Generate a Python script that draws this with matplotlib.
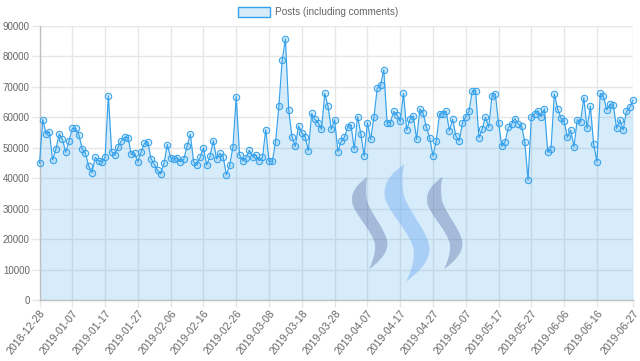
import numpy as np
import pandas as pd
import matplotlib
matplotlib.use("Agg")
import matplotlib.pyplot as plt
import matplotlib.dates as mdates
from matplotlib.path import Path
from matplotlib.patches import PathPatch, Rectangle
from matplotlib.transforms import Affine2D

plt.rcParams['font.family'] = ['Liberation Sans', 'DejaVu Sans']

start_date = "2018-12-28"
end_date = "2019-06-27"

# daily post counts
posts = [
    44900, 59200, 54500, 55200, 46000, 49500, 54500, 52700, 48500, 52100,
    56300, 56300, 54200, 49700, 48100, 44000, 41800, 46800, 45700, 45400,
    46800, 67000, 48700, 47700, 50300, 52300, 53400, 53300, 47800, 48100,
    45400, 48600, 51400, 52000, 46400, 44600, 42500, 41400, 45100, 51000,
    46600, 46200, 46700, 45400, 46200, 50500, 54400, 45400, 44400, 46800,
    49900, 44300, 47200, 52300, 46300, 48100, 47000, 41100, 44300, 50200,
    66700, 47700, 45700, 46700, 49100, 47000, 47600, 45700, 46800, 55900,
    45600, 45500, 51900, 63600, 78600, 85700, 62400, 53600, 50400, 57100,
    54900, 53600, 49000, 61200, 59300, 58200, 56000, 67800, 63500, 56000,
    59100, 48700, 52200, 53400, 56900, 57400, 49500, 60200, 54500, 47300,
    58200, 52700, 60100, 69500, 70500, 75500, 58200, 58200, 61900, 60800,
    58600, 67800, 55800, 59500, 60400, 52700, 62700, 61300, 56700, 53200,
    47300, 52200, 61100, 61100, 62000, 55600, 59300, 53800, 52200, 58200,
    60200, 62000, 68700, 68700, 53300, 56000, 60000, 56700, 67000, 67600,
    58100, 50500, 52000, 56600, 57800, 59500, 57800, 57200, 51900, 39300,
    60100, 61100, 62100, 60100, 62800, 48500, 49600, 67600, 62800, 59700,
    58600, 53400, 55800, 50300, 59200, 58500, 66400, 56300, 63600, 51100,
    45400, 67800, 66800, 62400, 64200, 63900, 56300, 59100, 55800, 61900,
    63200, 65600,
]

y_ticks = [0, 10000, 20000, 30000, 40000, 50000, 60000, 70000, 80000, 90000]

LINE = '#36a2eb'
FILL = (54 / 255, 162 / 255, 235 / 255, 0.2)
TEXT = '#666666'
GRID = '#e6e6e6'

dates = pd.date_range(start_date, end_date, freq='D')
tick_dates = list(pd.date_range(start_date, periods=18, freq='10D')) + [pd.Timestamp(end_date)]

fig = plt.figure(figsize=(6.4, 3.61), dpi=100)
ax = fig.add_axes([39.5 / 640, 61 / 361, (633 - 39.5) / 640, (300 - 25.7) / 361])

ax.fill_between(dates, posts, 0, color=FILL, lw=0, zorder=1)
ax.plot(dates, posts, color=LINE, lw=0.85, marker='o', ms=4.6,
        mfc=FILL, mec=LINE, mew=0.75, zorder=3, clip_on=False)

ax.set_xlim(dates[0], dates[-1])
ax.set_ylim(0, 90000)
ax.set_yticks(y_ticks)
ax.set_xticks(tick_dates)
ax.xaxis.set_major_formatter(mdates.DateFormatter('%Y-%m-%d'))

ax.grid(True, color=GRID, lw=1, zorder=0)
ax.set_axisbelow(True)
for side in ['top', 'right']:
    ax.spines[side].set_visible(False)
for side in ['left', 'bottom']:
    ax.spines[side].set_color('#c0c0c0')
    ax.spines[side].set_linewidth(1)

ax.tick_params(axis='both', colors=GRID, labelcolor=TEXT, width=1)
ax.tick_params(axis='y', length=6, pad=1, labelsize=7)
ax.tick_params(axis='x', length=5, pad=1, labelsize=7.6)
plt.setp(ax.get_xticklabels(), rotation=51, ha='right', rotation_mode='anchor')

# steem logo watermark, drawn in pixel coords of the crop it was traced from
swoosh_verts = [
    (82, 66),
    (55, 85), (30, 110), (37, 145),
    (45, 180), (100, 230), (105, 270),
    (107, 300), (95, 325), (87, 343),
    (115, 322), (145, 295), (142, 262),
    (138, 225), (95, 180), (82, 140),
    (76, 115), (78, 85), (82, 66),
    (82, 66),
]
swoosh_codes = [Path.MOVETO] + [Path.CURVE4] * 18 + [Path.CLOSEPOLY]
swoosh = Path(np.array(swoosh_verts, dtype=float), swoosh_codes)

to_fig = (Affine2D().scale(1 / 3).translate(340, 155)
          .scale(1, -1).translate(0, 361).scale(1 / 640, 1 / 361) + fig.transFigure)

logo_parts = [
    (Affine2D(), '#4a5f9a', 0.35),
    (Affine2D().translate(225, 0), '#4a5f9a', 0.35),
    (Affine2D().translate(-82, -66).scale(1.27).translate(192, 28), '#7fb3f5', 0.5),
]
for shift, color, alpha in logo_parts:
    patch = PathPatch(swoosh, transform=shift + to_fig, facecolor=color,
                      edgecolor='none', alpha=alpha, zorder=2)
    ax.add_patch(patch)

# legend
fig.patches.append(Rectangle((238 / 640, 1 - 17 / 361), 32 / 640, 10 / 361,
                             transform=fig.transFigure, facecolor=FILL,
                             edgecolor=LINE, lw=1))
fig.text(275 / 640, 1 - 12 / 361, 'Posts (including comments)', color=TEXT,
         fontsize=7.2, va='center', ha='left')

fig.savefig('out.png', dpi=100)
